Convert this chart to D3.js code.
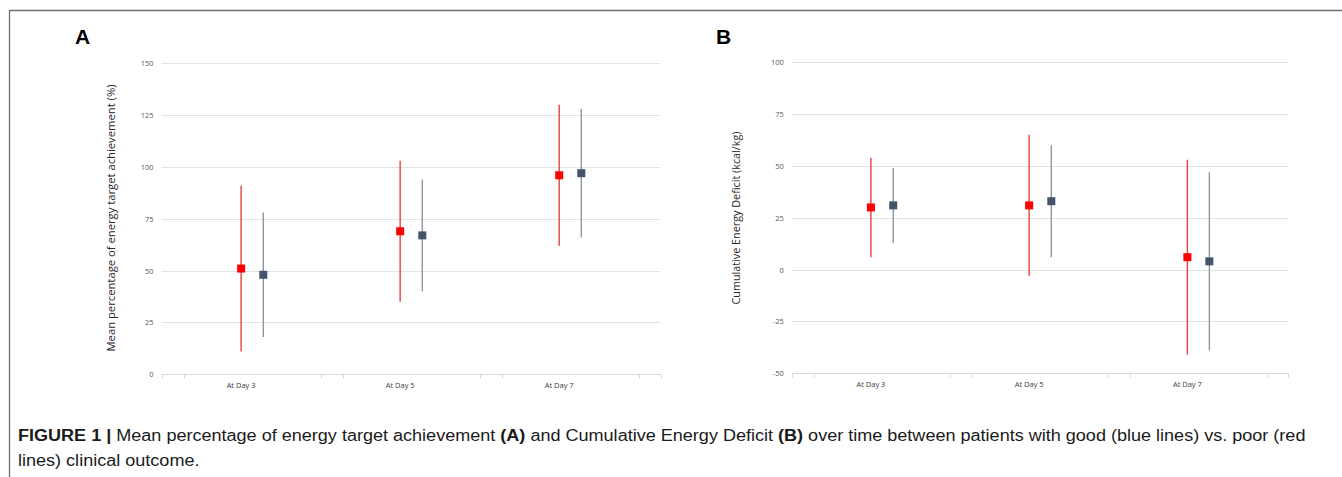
<!DOCTYPE html>
<html>
<head>
<meta charset="utf-8">
<script src="https://cdn.jsdelivr.net/npm/d3@7"></script>
<style>
html,body{margin:0;padding:0;background:#fff;}
svg{display:block;}
</style>
</head>
<body>
<svg id="chart" width="1342" height="477"></svg>
<script>
// ---- Data ----
const categories = ["At Day 3", "At Day 5", "At Day 7"];

// Panel A: Mean percentage of energy target achievement (%)
const aPoorMean = [51, 69, 96];
const aPoorLow  = [11, 35, 62];
const aPoorHigh = [91, 103, 130];
const aGoodMean = [48, 67, 97];
const aGoodLow  = [18, 40, 66];
const aGoodHigh = [78, 94, 128];
const aTicks = [0, 25, 50, 75, 100, 125, 150];

// Panel B: Cumulative Energy Deficit (kcal/kg)
const bPoorMean = [30, 31, 6];
const bPoorLow  = [6, -3, -41];
const bPoorHigh = [54, 65, 53];
const bGoodMean = [31, 33, 4];
const bGoodLow  = [13, 6, -39];
const bGoodHigh = [49, 60, 47];
const bTicks = [-50, -25, 0, 25, 50, 75, 100];

const svg = d3.select("#chart");

// frame lines
svg.append("line").attr("x1", 9).attr("x2", 1342).attr("y1", 10.5).attr("y2", 10.5)
  .attr("stroke", "#6e6e6e").attr("stroke-width", 1.3);
svg.append("line").attr("x1", 9.5).attr("x2", 9.5).attr("y1", 10).attr("y2", 477)
  .attr("stroke", "#6e6e6e").attr("stroke-width", 1.3);

const RED = "#ff0000", REDLINE = "#e8413c", GRAY = "#44546a", GRAYLINE = "#8d96a3";
const tickFont = "'Open Sans', 'Liberation Sans', sans-serif";

function panel(cfg) {
  const g = svg.append("g");
  const xPoor = d3.scaleBand().domain(categories).range(cfg.poorRange).padding(0);
  const xGood = d3.scaleBand().domain(categories).range(cfg.goodRange).padding(0);
  const y = d3.scaleLinear().domain(cfg.yDomain).range(cfg.yRange);

  // y tick labels via d3.axisLeft
  const yAxis = d3.axisLeft(y).tickValues(cfg.ticks).tickSize(0).tickPadding(0)
    .tickFormat(d => String(d));
  const yg = g.append("g").attr("transform", `translate(${cfg.poorRange[0] - 8},0)`).call(yAxis);
  yg.select(".domain").remove();
  yg.selectAll("text").attr("font-family", tickFont).attr("font-size", 7.5).attr("fill", "#595959");

  // gridlines
  g.append("g").selectAll("line").data(cfg.ticks.filter(t => t !== cfg.yDomain[0]))
    .join("line")
    .attr("x1", cfg.poorRange[0]).attr("x2", cfg.goodRange[1])
    .attr("y1", d => Math.round(y(d)) + 0.5).attr("y2", d => Math.round(y(d)) + 0.5)
    .attr("stroke", "#e3e3e3").attr("stroke-width", 1);

  // x axis line
  const axisY = Math.round(y(cfg.yDomain[0])) + 0.5;
  g.append("line").attr("x1", cfg.poorRange[0]).attr("x2", cfg.goodRange[1])
    .attr("y1", axisY).attr("y2", axisY).attr("stroke", "#d9d9d9");
  // tick marks at band edges of both (offset) category axes
  const edges = [];
  [xPoor, xGood].forEach(s => {
    categories.forEach(c => { edges.push(s(c)); });
    edges.push(s(categories[categories.length - 1]) + s.bandwidth());
  });
  g.append("g").selectAll("line").data(edges).join("line")
    .attr("x1", d => Math.round(d) + 0.5).attr("x2", d => Math.round(d) + 0.5)
    .attr("y1", axisY).attr("y2", axisY + 4).attr("stroke", "#d9d9d9");

  // category labels
  g.append("g").selectAll("text").data(categories).join("text")
    .attr("x", d => xPoor(d) + xPoor.bandwidth() / 2)
    .attr("y", axisY + 13)
    .attr("text-anchor", "middle")
    .attr("font-family", tickFont).attr("font-size", 7.5).attr("fill", "#404040")
    .text(d => d);

  // axis title
  g.append("text")
    .attr("transform", `translate(${cfg.titleX},${cfg.titleY}) rotate(-90)`)
    .attr("text-anchor", "middle")
    .attr("font-family", tickFont).attr("font-size", 10).attr("fill", "#262626")
    .attr("textLength", cfg.titleLen).attr("lengthAdjust", "spacingAndGlyphs")
    .text(cfg.title);

  // panel letter
  g.append("text").attr("x", cfg.letterX).attr("y", 44)
    .attr("font-family", "'Liberation Sans', Arial, sans-serif").attr("font-weight", "bold")
    .attr("font-size", 21).attr("fill", "#000").text(cfg.letter);

  // series
  const series = [
    { x: xPoor, mean: cfg.poorMean, lo: cfg.poorLow, hi: cfg.poorHigh, line: REDLINE, fill: RED },
    { x: xGood, mean: cfg.goodMean, lo: cfg.goodLow, hi: cfg.goodHigh, line: GRAYLINE, fill: GRAY }
  ];
  series.forEach(s => {
    const sg = g.append("g");
    const cx = c => s.x(c) + s.x.bandwidth() / 2;
    sg.selectAll("line").data(categories).join("line")
      .attr("x1", cx).attr("x2", cx)
      .attr("y1", (c, i) => y(s.hi[i])).attr("y2", (c, i) => y(s.lo[i]))
      .attr("stroke", s.line).attr("stroke-width", 1.4);
    sg.selectAll("rect").data(categories).join("rect")
      .attr("x", c => cx(c) - 4).attr("y", (c, i) => y(s.mean[i]) - 4)
      .attr("width", 8).attr("height", 8).attr("fill", s.fill);
  });
}

panel({
  letter: "A", letterX: 75,
  poorRange: [161.6, 638.7], goodRange: [183.8, 660.8],
  yDomain: [0, 150], yRange: [374.3, 63.3], ticks: aTicks,
  poorMean: aPoorMean, poorLow: aPoorLow, poorHigh: aPoorHigh,
  goodMean: aGoodMean, goodLow: aGoodLow, goodHigh: aGoodHigh,
  title: "Mean percentage of energy target achievement (%)",
  titleX: 115, titleY: 218, titleLen: 267
});

panel({
  letter: "B", letterX: 716,
  poorRange: [791.8, 1266.5], goodRange: [814.2, 1288.4],
  yDomain: [-50, 100], yRange: [373.3, 62.3], ticks: bTicks,
  poorMean: bPoorMean, poorLow: bPoorLow, poorHigh: bPoorHigh,
  goodMean: bGoodMean, goodLow: bGoodLow, goodHigh: bGoodHigh,
  title: "Cumulative Energy Deficit (kcal/kg)",
  titleX: 740, titleY: 218, titleLen: 173
});

// caption
const capFont = "'Liberation Sans Narrow', 'Liberation Sans', Arial, sans-serif";
const cap1 = svg.append("text").attr("x", 18).attr("y", 441)
  .attr("font-family", capFont).attr("font-size", 16).attr("fill", "#1a1a1a");
const parts = [
  ["FIGURE 1 | ", true], ["Mean percentage of energy target achievement ", false], ["(A)", true],
  [" and Cumulative Energy Deficit ", false], ["(B)", true],
  [" over time between patients with good (blue lines) vs. poor (red", false]
];
parts.forEach(p => cap1.append("tspan").attr("font-weight", p[1] ? "bold" : "normal").text(p[0]));
const cap2 = svg.append("text").attr("x", 18).attr("y", 466)
  .attr("font-family", capFont).attr("font-size", 16).attr("fill", "#1a1a1a")
  .text("lines) clinical outcome.");
// horizontally fit caption to reference width
const w1 = cap1.node().getComputedTextLength();
const sx = 1288 / w1;
cap1.attr("transform", `translate(18,0) scale(${sx},1) translate(-18,0)`);
cap2.attr("transform", `translate(18,0) scale(${sx},1) translate(-18,0)`);
</script>
</body>
</html>
